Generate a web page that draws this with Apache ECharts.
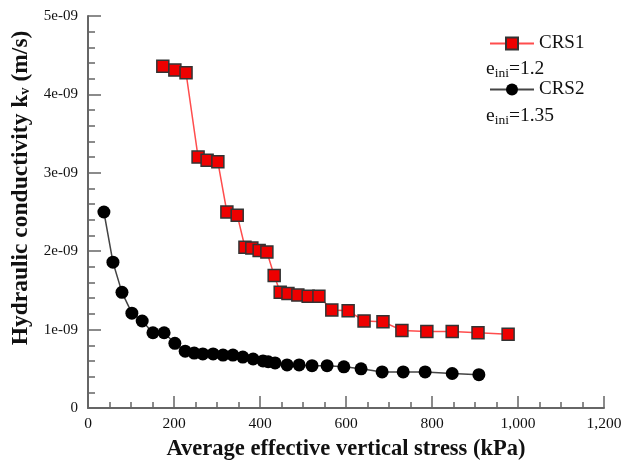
<!DOCTYPE html>
<html>
<head>
<meta charset="utf-8">
<script src="https://cdn.jsdelivr.net/npm/echarts@6/dist/echarts.min.js"></script>
<style>
  html, body { margin: 0; padding: 0; background: #fff; }
  #main { width: 632px; height: 466px; }
</style>
</head>
<body>
<div id="main"></div>
<script>
// stress in kPa, kv in m/s
var crs1Stress = [174, 202, 228, 256, 277, 302, 323, 347, 365, 381, 398, 416, 433, 447, 465, 488, 512, 537, 567, 605, 642, 686, 730, 788, 847, 907, 977];
var crs1Kv = [4.36e-9, 4.31e-9, 4.275e-9, 3.2e-9, 3.16e-9, 3.14e-9, 2.5e-9, 2.46e-9, 2.05e-9, 2.04e-9, 2.01e-9, 1.99e-9, 1.69e-9, 1.475e-9, 1.46e-9, 1.44e-9, 1.425e-9, 1.425e-9, 1.25e-9, 1.24e-9, 1.11e-9, 1.1e-9, 0.99e-9, 0.975e-9, 0.975e-9, 0.96e-9, 0.94e-9];

var crs2Stress = [37, 58, 79, 102, 126, 151, 177, 202, 226, 247, 267, 291, 314, 337, 360, 384, 407, 419, 435, 463, 491, 521, 556, 595, 635, 684, 733, 784, 847, 909];
var crs2Kv = [2.5e-9, 1.86e-9, 1.475e-9, 1.21e-9, 1.11e-9, 0.96e-9, 0.96e-9, 0.825e-9, 0.725e-9, 0.7e-9, 0.69e-9, 0.69e-9, 0.675e-9, 0.675e-9, 0.65e-9, 0.625e-9, 0.6e-9, 0.59e-9, 0.575e-9, 0.55e-9, 0.55e-9, 0.54e-9, 0.54e-9, 0.525e-9, 0.5e-9, 0.46e-9, 0.46e-9, 0.46e-9, 0.44e-9, 0.425e-9];

var seriesNames = ['CRS1', 'CRS2'];
var eIni = ['1.2', '1.35'];

function pairs(xs, ys) {
  return xs.map(function (x, i) { return [x, ys[i]]; });
}

var serif = '"Liberation Serif", "DejaVu Serif", serif';
var axisGrey = '#666';

function eLabel(val, top) {
  return {
    type: 'text', left: 486, top: top,
    style: {
      text: '{b|e}{s|ini}{b|=' + val + '}',
      rich: {
        b: { fontFamily: serif, fontSize: 19.5, fill: '#111' },
        s: { fontFamily: serif, fontSize: 13.5, fill: '#111', padding: [9, 0, 0, 0] }
      }
    }
  };
}

var myChart = echarts.init(document.getElementById('main'));

var option = {
  animation: false,
  grid: { left: 88, right: 28, top: 16, bottom: 50 },
  legend: {
    orient: 'vertical',
    left: 484,
    top: 29,
    itemGap: 27,
    itemWidth: 44,
    itemHeight: 15,
    textStyle: { fontFamily: serif, fontSize: 19, color: '#111' },
    data: seriesNames
  },
  graphic: [eLabel(eIni[0], 59), eLabel(eIni[1], 106)],
  xAxis: {
    type: 'value',
    min: 0,
    max: 1200,
    interval: 200,
    name: 'Average effective vertical stress (kPa)',
    nameLocation: 'middle',
    nameGap: 30,
    nameTextStyle: { fontFamily: serif, fontSize: 22.5, fontWeight: 'bold', color: '#111' },
    axisLine: { show: true, lineStyle: { color: axisGrey, width: 2 } },
    axisTick: { show: true, inside: true, length: 12, lineStyle: { color: axisGrey, width: 1.5 } },
    minorTick: { show: true, splitNumber: 4, length: 6, lineStyle: { color: axisGrey, width: 1.5 } },
    splitLine: { show: false },
    axisLabel: {
      fontFamily: serif, fontSize: 15.5, color: '#111', margin: 8,
      formatter: function (v) { return v.toLocaleString('en-US'); }
    }
  },
  yAxis: {
    type: 'value',
    min: 0,
    max: 5e-9,
    interval: 1e-9,
    name: 'Hydraulic conductivity k{sub|v} (m/s)',
    nameLocation: 'middle',
    nameGap: 48,
    nameTextStyle: {
      fontFamily: serif, fontSize: 23.5, fontWeight: 'bold', color: '#111',
      padding: [0, 0, 0, 48],
      rich: {
        sub: { fontFamily: serif, fontSize: 14.5, fontWeight: 'bold', color: '#111', padding: [9, 0, 0, 0] }
      }
    },
    axisLine: { show: true, lineStyle: { color: axisGrey, width: 2 } },
    axisTick: { show: true, inside: true, length: 13, lineStyle: { color: axisGrey, width: 1.5 } },
    minorTick: { show: true, splitNumber: 5, length: 7, lineStyle: { color: axisGrey, width: 1.5 } },
    splitLine: { show: false },
    axisLabel: {
      fontFamily: serif, fontSize: 15, color: '#111', margin: 10,
      formatter: function (v) {
        var n = Math.round(v * 1e9);
        return n === 0 ? '0' : n + 'e-09';
      }
    }
  },
  series: [
    {
      name: seriesNames[0],
      type: 'line',
      data: pairs(crs1Stress, crs1Kv),
      symbol: 'rect',
      symbolSize: 12,
      lineStyle: { color: '#ff4d4d', width: 1.5 },
      itemStyle: { color: '#ee0000', borderColor: '#333', borderWidth: 1.5 }
    },
    {
      name: seriesNames[1],
      type: 'line',
      data: pairs(crs2Stress, crs2Kv),
      symbol: 'circle',
      symbolSize: 13,
      lineStyle: { color: '#444', width: 1.5 },
      itemStyle: { color: '#000', borderColor: '#000', borderWidth: 0 }
    }
  ]
};

myChart.setOption(option);
</script>
</body>
</html>
